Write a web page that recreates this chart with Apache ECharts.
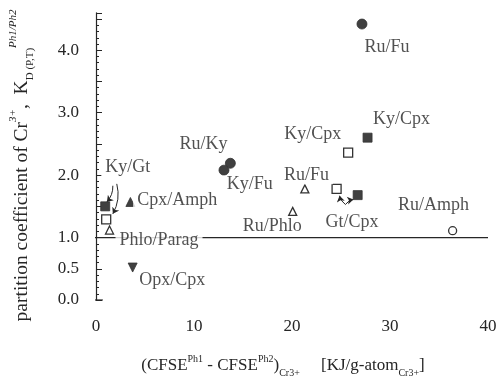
<!DOCTYPE html>
<html>
<head>
<meta charset="utf-8">
<script src="https://cdn.jsdelivr.net/npm/echarts@6/dist/echarts.min.js"></script>
<style>html,body{margin:0;padding:0;background:#fff;}#c{width:500px;height:383px;}</style>
</head>
<body>
<div id="c"></div>
<script>
// ---- data ----
const xTicks = [0, 10, 20, 30, 40];
const yTickLabels = [0, 0.5, 1, 2, 3, 4];
const filledCircles = [[27.14, 4.42], [13.71, 2.19], [13.06, 2.08]];
const filledSquares = [[0.94, 1.50], [27.71, 2.60], [26.70, 1.68]];
const openSquares = [[1.04, 1.29], [25.73, 2.36], [24.55, 1.78]];
const openTriangles = [[1.38, 1.12], [21.31, 1.78], [20.07, 1.42]];
const filledTriangles = [[3.51, 1.57]];
const filledDownTriangles = [[3.74, 0.52]];
const openCircles = [[36.39, 1.11]];
const unityLine = [[-0.6, 1], [40, 1]];
const zeroCross = [[-0.6, 0], [0.7, 0]];
const labelTexts = ['Ru/Fu', 'Ky/Cpx', 'Ky/Cpx', 'Ru/Fu', 'Gt/Cpx', 'Ru/Amph', 'Ru/Ky', 'Ky/Fu', 'Ky/Gt', 'Cpx/Amph', 'Phlo/Parag', 'Opx/Cpx', 'Ru/Phlo'];
const labelX = [29.70, 31.18, 22.12, 21.48, 26.13, 34.44, 10.98, 15.69, 3.23, 8.28, 6.43, 7.78, 17.98];
const labelY = [4.04, 2.90, 2.65, 2.00, 1.24, 1.51, 2.49, 1.85, 2.13, 1.59, 0.96, 0.31, 1.18];
const arrowFrom = [[1.72, 1.83], [2.12, 1.86], [25.45, 1.53], [25.45, 1.53]];
const arrowTo = [[1.11, 1.57], [1.72, 1.38], [24.85, 1.67], [26.26, 1.61]];

const serif = '"Liberation Serif", "DejaVu Serif", serif';
const ink = '#262626';
const fillGray = '#404040';

const chart = echarts.init(document.getElementById('c'), null, {renderer: 'canvas'});

const labelData = labelTexts.map((t, i) => ({value: [labelX[i], labelY[i]], name: t}));
const arrowData = arrowFrom.map((f, i) => ({coords: [f, arrowTo[i]]}));

function filled(name, data, symbol, size, rotate) {
  return {
    name, type: 'scatter', data, symbol, symbolSize: size, symbolRotate: rotate || 0,
    itemStyle: {color: fillGray, borderColor: '#333', borderWidth: 0.8, opacity: 1}, z: 5
  };
}
function open(name, data, symbol, size) {
  return {
    name, type: 'scatter', data, symbol, symbolSize: size,
    itemStyle: {color: '#fff', borderColor: '#333', borderWidth: 1.3, opacity: 1}, z: 5
  };
}

chart.setOption({
  backgroundColor: '#fff',
  animation: false,
  grid: {left: 93, right: 12, top: 12.8, bottom: 79.5},
  xAxis: {
    type: 'value', min: 0, max: 40, interval: 10,
    axisLine: {show: false}, axisTick: {show: false}, splitLine: {show: false},
    axisLabel: {
      margin: 18, color: ink, fontFamily: serif, fontSize: 17,
      formatter: v => (xTicks.indexOf(v) >= 0 ? String(v) : '')
    },
    name: '{a|(CFSE}{sup|Ph1}{a| - CFSE}{sup|Ph2}{a|)}{sub|Cr3+}{a|     [KJ/g-atom}{sub|Cr3+}{a|]}',
    nameLocation: 'middle', nameGap: 54,
    nameTextStyle: {
      color: ink, fontFamily: serif, padding: [0, 18, 0, 0],
      rich: {
        a: {fontSize: 17, fontFamily: serif, color: ink, lineHeight: 24, verticalAlign: 'middle'},
        sup: {fontSize: 10, fontFamily: serif, color: ink, lineHeight: 24, verticalAlign: 'top'},
        sub: {fontSize: 10, fontFamily: serif, color: ink, lineHeight: 24, verticalAlign: 'bottom'}
      }
    }
  },
  yAxis: {
    type: 'value', min: 0, max: 4.6, interval: 0.5,
    axisLine: {show: true, lineStyle: {color: ink, width: 1.2}},
    axisTick: {show: true, inside: true, length: 6, lineStyle: {color: ink, width: 1}},
    minorTick: {show: true, splitNumber: 5, length: 3, lineStyle: {color: ink, width: 1}},
    splitLine: {show: false},
    axisLabel: {
      margin: 17, color: ink, fontFamily: serif, fontSize: 17,
      formatter: v => (yTickLabels.some(t => Math.abs(t - v) < 1e-6) ? v.toFixed(1) : '')
    },
    name: '{a|partition coefficient of Cr}{sup|3+}{a|,  K}{sub|D (P,T)}{sup|Ph1/Ph2}',
    nameLocation: 'middle', nameGap: 60, nameRotate: 90,
    nameTextStyle: {
      color: ink, fontFamily: serif, padding: [0, 18, 0, 0],
      rich: {
        a: {fontSize: 19.5, fontFamily: serif, color: ink, lineHeight: 28, verticalAlign: 'middle'},
        sup: {fontSize: 11, fontFamily: serif, color: ink, lineHeight: 28, verticalAlign: 'top', fontStyle: 'italic'},
        sub: {fontSize: 11, fontFamily: serif, color: ink, lineHeight: 28, verticalAlign: 'bottom'}
      }
    }
  },
  series: [
    {
      name: 'unity', type: 'line', data: unityLine, symbol: 'none', clip: false,
      lineStyle: {color: ink, width: 1.2}, z: 2, silent: true
    },
    {
      name: 'zero cross', type: 'line', data: zeroCross, symbol: 'none', clip: false,
      lineStyle: {color: ink, width: 1.2}, z: 2, silent: true
    },
    filled('filled circle', filledCircles, 'circle', 10),
    filled('filled square', filledSquares, 'rect', 9),
    filled('filled triangle', filledTriangles, 'triangle', 9),
    filled('filled down triangle', filledDownTriangles, 'triangle', 9, 180),
    open('open square', openSquares, 'rect', 9),
    open('open triangle', openTriangles, 'triangle', 8),
    open('open circle', openCircles, 'circle', 8),
    {
      name: 'arrows', type: 'lines', coordinateSystem: 'cartesian2d', data: arrowData,
      symbol: ['none', 'arrow'], symbolSize: 6,
      lineStyle: {color: ink, width: 1, curveness: 0.2, opacity: 1}, z: 4, silent: true
    },
    {
      name: 'labels', type: 'scatter', data: labelData, symbolSize: 0, z: 6, silent: true,
      label: {
        show: true, position: 'inside', formatter: p => p.name,
        color: ink, fontFamily: serif, fontSize: 18,
        backgroundColor: '#fff', padding: [0, 4]
      }
    }
  ]
});
</script>
</body>
</html>
